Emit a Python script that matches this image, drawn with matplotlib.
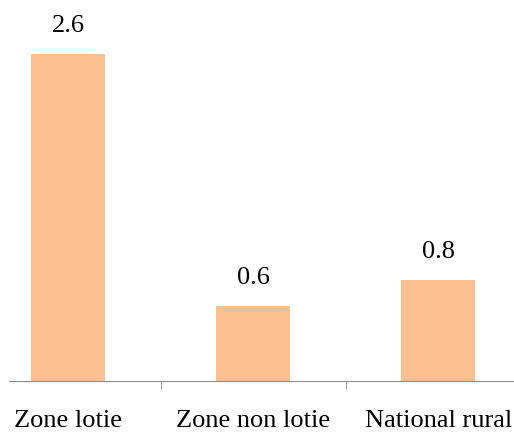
import matplotlib
matplotlib.use('Agg')
import matplotlib.pyplot as plt

categories = ['Zone lotie', 'Zone non lotie', 'National rural']
values = [2.6, 0.6, 0.8]
value_labels = ['2.6', '0.6', '0.8']

plt.rcParams['font.family'] = ['Liberation Serif', 'DejaVu Serif']

fig = plt.figure(figsize=(5.14, 4.32), dpi=100)
ax = fig.add_axes([9 / 514, 51 / 432, 505 / 514, 381 / 432])

x = range(len(categories))
bars = ax.bar(x, values, width=0.4, color='#FAC090')

for b, lab in zip(bars, value_labels):
    ax.annotate(lab, (b.get_x() + b.get_width() / 2, b.get_height()),
                xytext=(0, 17), textcoords='offset pixels',
                ha='center', va='bottom', fontsize=19)

ax.set_xlim(-0.319, 2.41)
ax.set_ylim(0, 3.03)

for side in ['top', 'right', 'left']:
    ax.spines[side].set_visible(False)
ax.spines['bottom'].set_color('#8c8c8c')
ax.set_yticks([])

ax.set_xticks(list(x))
ax.set_xticklabels(categories, fontsize=19)
ax.tick_params(axis='x', which='major', length=0, pad=21)
ax.set_xticks([0.5, 1.5], minor=True)
ax.tick_params(axis='x', which='minor', length=6, color='#8c8c8c', direction='out')

fig.savefig('out.png', dpi=100)
